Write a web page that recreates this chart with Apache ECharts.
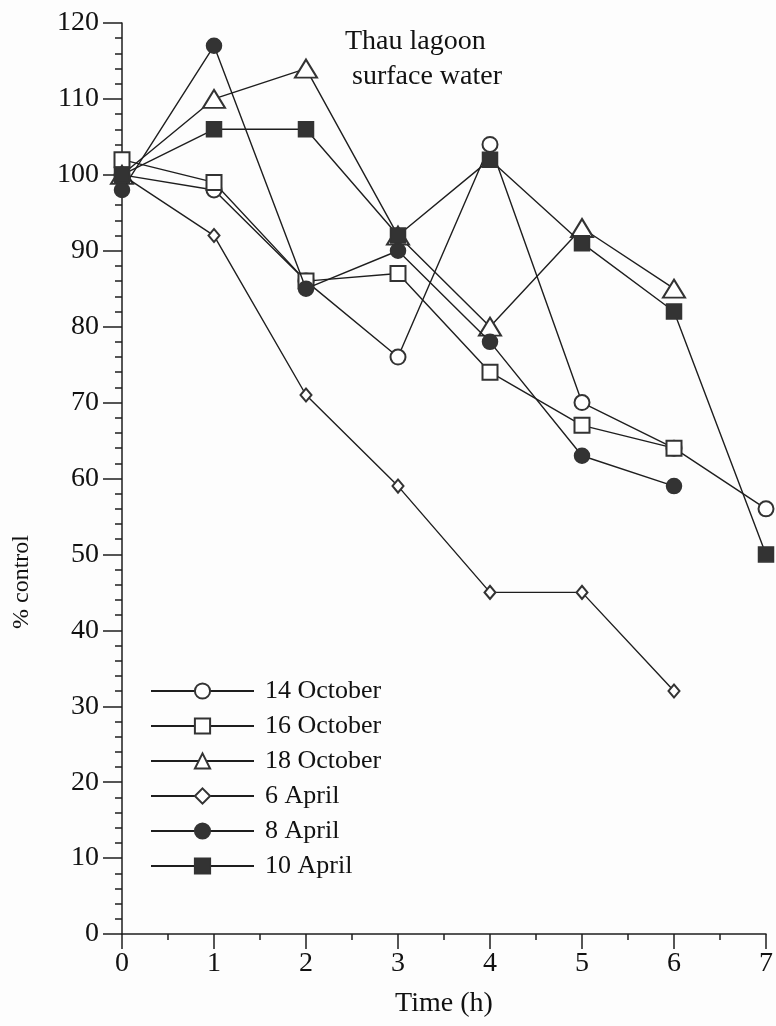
<!DOCTYPE html>
<html>
<head>
<meta charset="utf-8">
<script src="https://cdn.jsdelivr.net/npm/echarts@6/dist/echarts.min.js"></script>
<style>
html,body{margin:0;padding:0;background:#fdfdfd;}
#chart{width:776px;height:1026px;}
</style>
</head>
<body>
<div id="chart"></div>
<script>
var times = [0, 1, 2, 3, 4, 5, 6, 7];
var seriesNames = ['14 October', '16 October', '18 October', '6 April', '8 April', '10 April'];
var oct14 = [100, 98, 86, 76, 104, 70, 64, 56];
var oct16 = [102, 99, 86, 87, 74, 67, 64];
var oct18 = [100, 110, 114, 92, 80, 93, 85];
var apr6 = [100, 92, 71, 59, 45, 45, 32];
var apr8 = [98, 117, 85, 90, 78, 63, 59];
var apr10 = [100, 106, 106, 92, 102, 91, 82, 50];
var yTicks = [0, 10, 20, 30, 40, 50, 60, 70, 80, 90, 100, 110, 120];
var xTicks = [0, 1, 2, 3, 4, 5, 6, 7];

var FONT = 'Liberation Serif';
var INK = '#1e1e1e';

function pairs(vals) {
  return vals.map(function (v, i) { return [times[i], v]; });
}

var styles = [
  {symbol: 'emptyCircle', size: 15},
  {symbol: 'emptyRect', size: 15},
  {symbol: 'emptyTriangle', size: [22, 18]},
  {symbol: 'emptyDiamond', size: [11, 13]},
  {symbol: 'circle', size: 15},
  {symbol: 'rect', size: 15}
];
var allData = [oct14, oct16, oct18, apr6, apr8, apr10];

var series = allData.map(function (vals, k) {
  var st = styles[k];
  return {
    name: seriesNames[k],
    type: 'line',
    data: pairs(vals),
    symbol: st.symbol,
    symbolSize: st.size,
    showAllSymbol: true,
    clip: false,
    lineStyle: {color: INK, width: 1.4},
    itemStyle: {color: '#333', borderColor: '#333', borderWidth: 1.5},
    emphasis: {disabled: true},
    z: 2 + k
  };
});

var chart = echarts.init(document.getElementById('chart'), null, {renderer: 'canvas'});
chart.setOption({
  backgroundColor: '#fdfdfd',
  animation: false,
  grid: {left: 122, right: 8, top: 23, bottom: 92, containLabel: false},
  xAxis: {
    type: 'value',
    min: 0, max: 7, interval: 1,
    name: 'Time (h)',
    nameLocation: 'middle',
    nameGap: 56,
    nameTextStyle: {fontFamily: FONT, fontSize: 28, color: '#111'},
    axisLine: {show: true, onZero: false, lineStyle: {color: INK, width: 1.5}},
    axisTick: {show: true, length: 15, lineStyle: {color: INK, width: 1.5}},
    minorTick: {show: true, splitNumber: 2, length: 6, lineStyle: {color: INK, width: 1.5}},
    splitLine: {show: false},
    axisLabel: {
      margin: 16, fontFamily: FONT, fontSize: 28, color: '#111',
      formatter: function (v) { return xTicks.indexOf(v) >= 0 ? String(v) : ''; }
    }
  },
  yAxis: {
    type: 'value',
    min: 0, max: 120, interval: 10,
    axisLine: {show: true, onZero: false, lineStyle: {color: INK, width: 1.5}},
    axisTick: {show: true, length: 19, lineStyle: {color: INK, width: 1.5}},
    minorTick: {show: true, splitNumber: 5, length: 7, lineStyle: {color: INK, width: 1.5}},
    splitLine: {show: false},
    axisLabel: {
      margin: 23, fontFamily: FONT, fontSize: 28, color: '#111',
      formatter: function (v) { return yTicks.indexOf(v) >= 0 ? String(v) : ''; }
    }
  },
  legend: {
    orient: 'vertical',
    left: 145,
    top: 673,
    itemWidth: 103,
    itemHeight: 19,
    itemGap: 9,
    selectedMode: false,
    data: seriesNames,
    textStyle: {fontFamily: FONT, fontSize: 26, color: '#111', padding: [0, 0, 0, 6]}
  },
  graphic: [
    {type: 'text', x: 345, y: 28, style: {text: 'Thau lagoon', fontFamily: FONT, fontSize: 28, fill: '#111'}},
    {type: 'text', x: 352, y: 63, style: {text: 'surface water', fontFamily: FONT, fontSize: 28, fill: '#111'}},
    {type: 'text', x: 22, y: 582, rotation: Math.PI / 2,
     style: {text: '% control', fontFamily: FONT, fontSize: 24, fill: '#111', align: 'center', verticalAlign: 'middle'}}
  ],
  series: series
});
</script>
</body>
</html>
